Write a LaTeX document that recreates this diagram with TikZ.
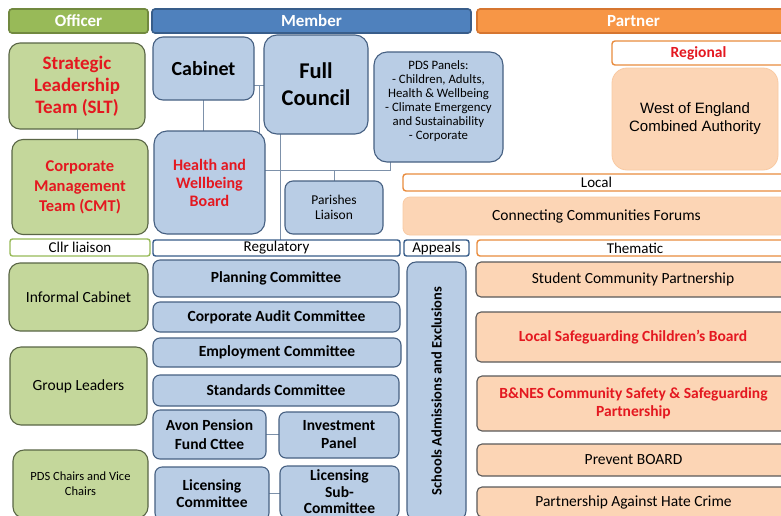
\documentclass[tikz,border=0pt]{standalone}
\usepackage{fontspec}
\setmainfont{Carlito}
\newfontfamily\arialf{Liberation Sans}
\usetikzlibrary{backgrounds}
\definecolor{gHead}{RGB}{152,186,88}
\definecolor{gHeadE}{RGB}{113,137,63}
\definecolor{bHead}{RGB}{79,129,189}
\definecolor{bHeadE}{RGB}{56,93,138}
\definecolor{oHead}{RGB}{247,150,70}
\definecolor{oHeadE}{RGB}{214,118,48}
\definecolor{gFill}{RGB}{196,215,155}
\definecolor{gEdge}{RGB}{90,102,70}
\definecolor{bFill}{RGB}{185,205,229}
\definecolor{bEdge}{RGB}{70,96,130}
\definecolor{oFill}{RGB}{252,213,181}
\definecolor{oEdge}{RGB}{233,140,62}
\definecolor{tEdge}{RGB}{90,90,90}
\definecolor{redT}{RGB}{228,24,32}
\definecolor{connC}{RGB}{125,145,170}
\tikzset{
  hdr/.style={draw, line width=1.6pt, rounded corners=3pt, text=white, inner sep=0pt, outer sep=0pt,
    font=\fontsize{17}{20}\selectfont\bfseries},
  gbox/.style={draw=gEdge, fill=gFill, line width=1.1pt, rounded corners=11pt, align=center, inner sep=0pt, outer sep=0pt},
  bbox/.style={draw=bEdge, fill=bFill, line width=1.1pt, rounded corners=10pt, align=center, inner sep=0pt, outer sep=0pt},
  cbox/.style={bbox, rounded corners=7pt, font=\fontsize{15.5}{19}\selectfont\bfseries},
  gstrip/.style={draw=gHead, fill=white, line width=1.4pt, rounded corners=2.5pt, inner sep=0pt, outer sep=0pt,
    font=\fontsize{15}{17}\selectfont},
  bstrip/.style={draw=bHeadE, fill=white, line width=1.4pt, rounded corners=2.5pt, inner sep=0pt, outer sep=0pt,
    font=\fontsize{15}{17}\selectfont},
  ostrip/.style={draw=oEdge, fill=white, line width=1.4pt, rounded corners=3pt, inner sep=0pt, outer sep=0pt,
    font=\fontsize{15}{17}\selectfont},
  obox/.style={fill=oFill, draw=oFill!85!oEdge, line width=0.8pt, rounded corners=7pt, align=center, inner sep=0pt, outer sep=0pt},
  tbox/.style={fill=oFill, draw=tEdge, line width=1.1pt, rounded corners=5pt, align=center, inner sep=0pt, outer sep=0pt,
    font=\fontsize{15.5}{18}\selectfont},
  conn/.style={draw=connC, line width=0.9pt},
}
\begin{document}
\begin{tikzpicture}[x=1pt,y=-1pt]
\useasboundingbox (0,0) rectangle (781,515);

% headers
\node[hdr, fill=gHead, draw=gHeadE, minimum width=139pt, minimum height=24pt] (hoff) at (78.5,21) {Officer};
\node[hdr, fill=bHead, draw=bHeadE, minimum width=319pt, minimum height=24pt] (hmem) at (311.5,21) {Member};
\node[hdr, fill=oHead, draw=oHeadE, minimum width=313pt, minimum height=24pt] (hpar) at (633.5,21) {Partner};

% officer column
\node[gbox, minimum width=136pt, minimum height=86pt, text=redT, font=\fontsize{19}{22}\selectfont\bfseries] (slt) at (77,86) {Strategic\\Leadership\\Team (SLT)};
\node[gbox, minimum width=136pt, minimum height=95pt, text=redT, font=\fontsize{16.5}{20}\selectfont\bfseries] (cmt) at (80,187) {Corporate\\Management\\Team (CMT)};
\node[gstrip, minimum width=140pt, minimum height=17pt] (cllr) at (80,247.5) {Cllr liaison};
\node[gbox, minimum width=139pt, minimum height=68pt, font=\fontsize{15.5}{18}\selectfont] (infcab) at (78.5,297) {Informal Cabinet};
\node[gbox, minimum width=137pt, minimum height=78pt, font=\fontsize{15.5}{18}\selectfont] (grpl) at (78.5,386) {Group Leaders};
\node[gbox, minimum width=135pt, minimum height=68pt, font=\fontsize{12.5}{15}\selectfont] (pdsch) at (80.5,484) {PDS Chairs and Vice\\Chairs};

% member column
\node[bbox, minimum width=101pt, minimum height=63pt, font=\fontsize{20}{24}\selectfont\bfseries] (cab) at (203.5,68.5) {Cabinet};
\node[bbox, minimum width=104pt, minimum height=99pt, rounded corners=13pt, font=\fontsize{22.5}{27}\selectfont\bfseries] (fc) at (316,84.5) {Full\\Council};
\node[bbox, minimum width=129pt, minimum height=110pt, rounded corners=13pt, font=\fontsize{12.8}{14}\selectfont] (pds) at (438.5,107) {PDS Panels:\\- Children, Adults,\\Health \& Wellbeing\\- Climate Emergency\\and Sustainability\\- Corporate\\\mbox{}};
\node[bbox, minimum width=111pt, minimum height=103pt, rounded corners=13pt, text=redT, font=\fontsize{16}{18}\selectfont\bfseries] (hwb) at (209.5,182.5) {Health and\\Wellbeing\\Board};
\node[bbox, minimum width=98pt, minimum height=53pt, rounded corners=8pt, font=\fontsize{13.5}{15}\selectfont] (par) at (334,207.5) {Parishes\\Liaison};
\node[bstrip, minimum width=247pt, minimum height=16pt] (reg) at (276.5,248) {Regulatory};
\node[bstrip, minimum width=65pt, minimum height=16pt] (app) at (436.5,248) {Appeals};
\node[cbox, minimum width=246pt, minimum height=37pt] (plan) at (276,278.5) {Planning Committee};
\node[cbox, minimum width=247pt, minimum height=30pt] (audit) at (276.5,317) {Corporate Audit Committee};
\node[cbox, minimum width=248pt, minimum height=29pt] (emp) at (277,352.5) {Employment Committee};
\node[cbox, minimum width=246pt, minimum height=31pt] (std) at (276,390.5) {Standards Committee};
\node[cbox, minimum width=113pt, minimum height=49pt] (avon) at (209.5,434.5) {Avon Pension\\Fund Cttee};
\node[cbox, minimum width=120pt, minimum height=46pt, font=\fontsize{15.5}{18}\selectfont\bfseries] (inv) at (339,435) {Investment\\Panel};
\node[cbox, minimum width=114pt, minimum height=53pt, font=\fontsize{15.5}{17}\selectfont\bfseries] (lic) at (212,493.5) {Licensing\\Committee};
\node[cbox, minimum width=119pt, minimum height=52pt, font=\fontsize{15.5}{16.5}\selectfont\bfseries] (licsub) at (339.5,492) {Licensing\\Sub-\\Committee};
\node[cbox, rotate=90, minimum width=258pt, minimum height=59pt, rounded corners=9pt, font=\fontsize{14.5}{17}\selectfont\bfseries] (schools) at (436.5,391) {Schools Admissions and Exclusions};

% partner column
\node[ostrip, minimum width=173pt, minimum height=24pt, text=redT, font=\fontsize{15.5}{18}\selectfont\bfseries] (regl) at (698.5,53) {Regional};
\node[obox, minimum width=166pt, minimum height=102pt, rounded corners=15pt, font=\arialf\fontsize{15}{18}\selectfont] (weca) at (695,119) {West of England\\Combined Authority};
\node[ostrip, minimum width=387pt, minimum height=17pt] (loc) at (596.5,182.5) {Local};
\node[obox, minimum width=387pt, minimum height=38pt, font=\fontsize{15.5}{18}\selectfont] (ccf) at (596.5,216) {Connecting Communities Forums};
\node[ostrip, minimum width=316pt, minimum height=16pt] (them) at (635,248) {Thematic};
\node[tbox, minimum width=314pt, minimum height=35pt] (scp) at (633,279.5) {Student Community Partnership};
\node[tbox, minimum width=314pt, minimum height=50pt, text=redT, font=\fontsize{15.5}{18}\selectfont\bfseries] (lscb) at (633,337) {Local Safeguarding Children's Board};
\node[tbox, minimum width=313pt, minimum height=55pt, text=redT, font=\fontsize{15.5}{18}\selectfont\bfseries] (bnes) at (633.5,403.5) {B\&NES Community Safety \& Safeguarding\\Partnership};
\node[tbox, minimum width=313pt, minimum height=32pt] (prev) at (633.5,460) {Prevent BOARD};
\node[tbox, minimum width=313pt, minimum height=30pt] (pahc) at (633.5,502) {Partnership Against Hate Crime};

% connectors
\coordinate (j1) at (259,85);
\coordinate (j2) at (259,170);
\coordinate (j3) at (390,170);
\coordinate (j4) at (280,134);
\begin{scope}[on background layer]
\fill[white] (0,0) rectangle (781,515);
\draw[conn] (slt.south) -- (slt.south |- cmt.north);
\draw[conn] (cab.south) -- (cab.south |- hwb.north);
\draw[conn] (cab.east |- j1) -- (fc.west |- j1);
\draw[conn] (j1) -- (j2) -- (j3) -- (j3 |- pds.south);
\draw[conn] (par.north) -- (par.north |- j2);
\draw[conn] (j4) -- (j4 |- reg.north);
\draw[conn] (avon.east) -- (avon.east -| inv.west);
\draw[conn] (lic.east) -- (lic.east -| licsub.west);
\end{scope}
\end{tikzpicture}
\end{document}
